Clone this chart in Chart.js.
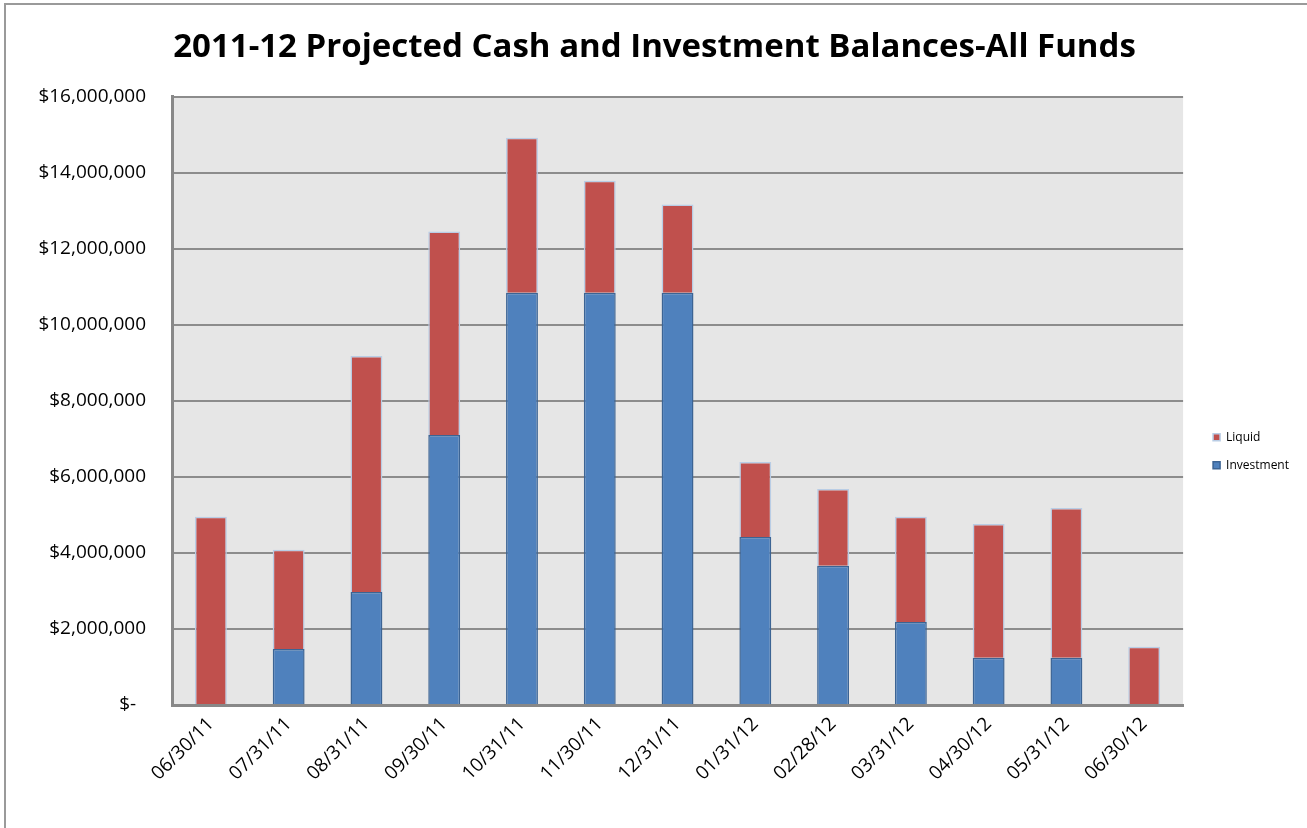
<!DOCTYPE html>
<html>
<head>
<meta charset="utf-8">
<script src="https://cdn.jsdelivr.net/npm/chart.js@4.4.0/dist/chart.umd.min.js"></script>
<style>
    html, body { margin: 0; padding: 0; background: #fff; }
    canvas { display: block; }
</style>
</head>
<body>
<canvas id="balanceChart" width="1307" height="828"></canvas>
<script>
const months = ['06/30/11', '07/31/11', '08/31/11', '09/30/11', '10/31/11', '11/30/11', '12/31/11',
    '01/31/12', '02/28/12', '03/31/12', '04/30/12', '05/31/12', '06/30/12'];
const investment = [0, 1470000, 2970000, 7100000, 10840000, 10840000, 10840000,
    4420000, 3660000, 2180000, 1240000, 1240000, 0];
const liquid = [4950000, 2610000, 6210000, 5350000, 4080000, 2950000, 2320000,
    1970000, 2020000, 2770000, 3520000, 3940000, 1530000];
const yTicks = [0, 2000000, 4000000, 6000000, 8000000, 10000000, 12000000, 14000000, 16000000];

const fontFamily = '"Open Sans", "Liberation Sans", sans-serif';

// grey plot area + outer frame, legend and title nudged right
const backdrop = {
    id: 'backdrop',
    afterLayout(chart) {
        chart.legend.left += 14;
        chart.legend.right += 14;
        chart.titleBlock.left += 12;
        chart.titleBlock.right += 12;
    },
    beforeDraw(chart) {
        const c = chart.ctx, a = chart.chartArea;
        c.save();
        c.fillStyle = '#e6e6e6';
        c.fillRect(a.left, a.top, a.right - a.left, a.bottom - a.top);
        c.strokeStyle = '#9a9a9a';
        c.lineWidth = 2;
        c.beginPath();
        c.moveTo(5, 828);
        c.lineTo(5, 4);
        c.lineTo(1307, 4);
        c.stroke();
        c.restore();
    }
};

new Chart(document.getElementById('balanceChart').getContext('2d'), {
    type: 'bar',
    data: {
        labels: months,
        datasets: [{
            label: 'Investment',
            data: investment,
            backgroundColor: '#4f81bd',
            borderColor: '#3c6494',
            borderWidth: 1.5
        }, {
            label: 'Liquid',
            data: liquid,
            backgroundColor: '#c0504d',
            borderColor: '#b9cde5',
            borderWidth: 1.5
        }]
    },
    options: {
        responsive: false,
        animation: false,
        layout: { padding: { right: 22 } },
        categoryPercentage: 1,
        barPercentage: 0.41,
        plugins: {
            title: {
                display: true,
                text: '2011-12 Projected Cash and Investment Balances-All Funds',
                color: '#000',
                font: { family: fontFamily, size: 33, weight: 'bold' },
                padding: { top: 28, bottom: 29 }
            },
            legend: {
                position: 'right',
                reverse: true,
                title: { display: true, text: ' ', padding: 30, font: { size: 12 } },
                labels: {
                    boxWidth: 7,
                    boxHeight: 7,
                    padding: 16,
                    color: '#000',
                    font: { family: fontFamily, size: 12 }
                }
            },
            tooltip: { enabled: false }
        },
        scales: {
            x: {
                stacked: true,
                grid: { display: false, drawTicks: false },
                border: { color: '#888', width: 3 },
                ticks: {
                    color: '#000',
                    font: { family: fontFamily, size: 19 },
                    minRotation: 45,
                    maxRotation: 45,
                    padding: 8
                },
                afterFit(scale) { scale.height = 123; }
            },
            y: {
                stacked: true,
                min: 0,
                max: 16000000,
                afterBuildTicks(scale) { scale.ticks = yTicks.map(v => ({ value: v })); },
                grid: { color: '#8c8c8c', lineWidth: 2, drawTicks: false },
                border: { color: '#888', width: 3 },
                ticks: {
                    color: '#000',
                    font: { family: fontFamily, size: 19 },
                    padding: 26,
                    callback: v => v === 0 ? '$-  ' : '$' + v.toLocaleString('en-US')
                },
                afterFit(scale) { scale.width = 172; }
            }
        }
    },
    plugins: [backdrop]
});
</script>
</body>
</html>
